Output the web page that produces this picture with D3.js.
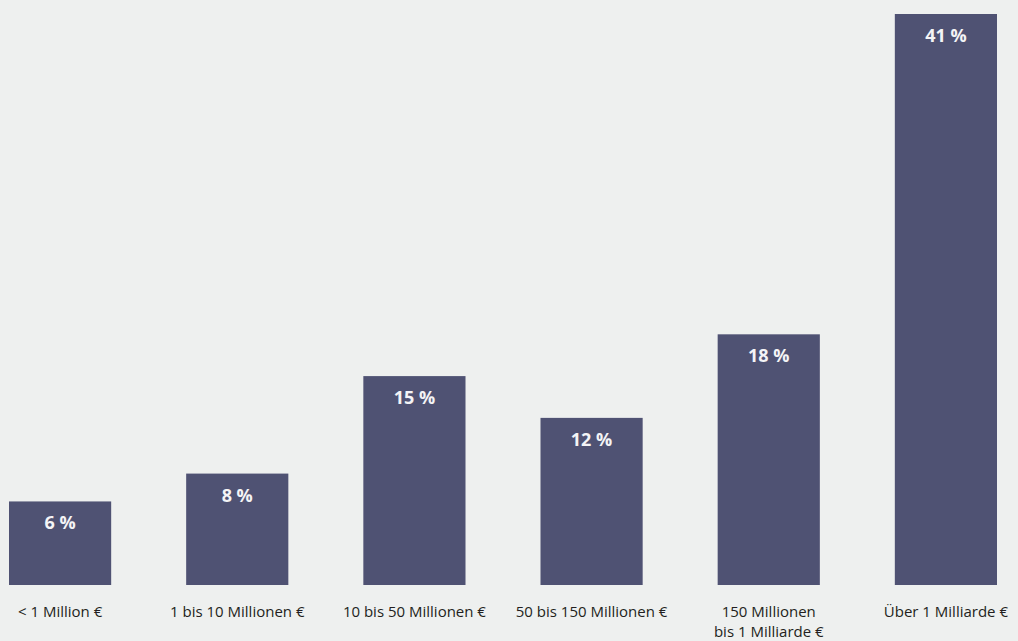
<!DOCTYPE html>
<html>
<head>
<meta charset="utf-8">
<script src="https://cdn.jsdelivr.net/npm/d3@7"></script>
<style>
  html, body { margin: 0; padding: 0; background: #eef0ef; }
  svg { display: block; }
</style>
</head>
<body>
<svg id="chart" width="1018" height="641"></svg>
<script>
// Share of companies by annual revenue class
const categories = [
  "< 1 Million €",
  "1 bis 10 Millionen €",
  "10 bis 50 Millionen €",
  "50 bis 150 Millionen €",
  "150 Millionen\nbis 1 Milliarde €",
  "Über 1 Milliarde €"
];
const values = [6, 8, 15, 12, 18, 41];

const chartWidth = 1018, chartHeight = 641;
const plotBottom = 585, plotTop = 14;
const barColor = "#4f5273";
const font = "'Open Sans', 'Noto Sans', sans-serif";

const svg = d3.select("#chart");

svg.append("rect")
  .attr("width", chartWidth).attr("height", chartHeight)
  .attr("fill", "#eef0ef");

const x = d3.scaleBand()
  .domain(categories)
  .range([9, 997])
  .paddingInner(0.4233)
  .paddingOuter(0);

const y = d3.scaleLinear()
  .domain([0, 41])
  .range([plotBottom, plotTop]);

const data = categories.map((c, i) => ({ cat: c, val: values[i] }));

svg.selectAll("rect.bar")
  .data(data)
  .join("rect")
  .attr("class", "bar")
  .attr("x", d => x(d.cat))
  .attr("y", d => y(d.val))
  .attr("width", x.bandwidth())
  .attr("height", d => plotBottom - y(d.val))
  .attr("fill", barColor);

// value labels inside the top of each bar
svg.selectAll("text.value")
  .data(data)
  .join("text")
  .attr("class", "value")
  .attr("x", d => x(d.cat) + x.bandwidth() / 2)
  .attr("y", d => y(d.val) + 28)
  .attr("text-anchor", "middle")
  .attr("fill", "#f4f4f6")
  .style("font-family", font)
  .style("font-size", "18px")
  .style("font-weight", "700")
  .text(d => d.val + " %");

// category axis labels, wrapped on newlines
const axis = d3.axisBottom(x).tickSize(0).tickPadding(0).tickFormat(() => "");
const axisG = svg.append("g")
  .attr("transform", `translate(0,${plotBottom})`)
  .call(axis);
axisG.select(".domain").remove();

axisG.selectAll(".tick").each(function(d) {
  const t = d3.select(this).append("text")
    .attr("text-anchor", "middle")
    .attr("fill", "#231f20")
    .style("font-family", font)
    .style("font-size", "15px");
  d.split("\n").forEach((line, i) => {
    t.append("tspan")
      .attr("x", 0)
      .attr("y", 31.5 + i * 20.5)
      .text(line);
  });
});
</script>
</body>
</html>
